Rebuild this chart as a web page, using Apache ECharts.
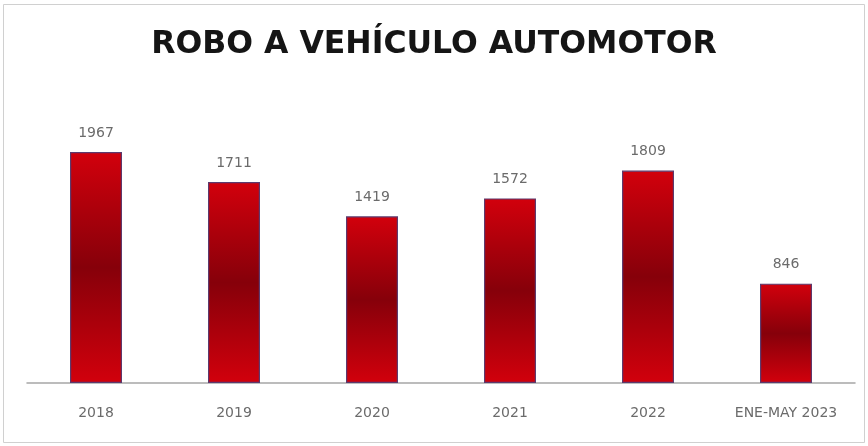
<!DOCTYPE html>
<html><head><meta charset="utf-8">
<script src="https://cdn.jsdelivr.net/npm/echarts@6/dist/echarts.min.js"></script>
<style>html,body{margin:0;padding:0;background:#fff}#c{width:868px;height:446px}</style>
</head><body><div id="c"></div>
<script>
const categories = ['2018','2019','2020','2021','2022','ENE-MAY 2023'];
const values = [1967, 1711, 1419, 1572, 1809, 846];
const titleText = 'ROBO A VEHÍCULO AUTOMOTOR';

const chart = echarts.init(document.getElementById('c'), null, {renderer:'canvas'});
chart.setOption({
  backgroundColor:'#ffffff',
  animation:false,
  title:{text:titleText,left:'center',top:24,textStyle:{fontFamily:'DejaVu Sans',fontWeight:'bold',fontSize:31.5,color:'#151515'}},
  graphic:[{type:'rect',shape:{x:3.5,y:4.5,width:861,height:438},style:{fill:'none',stroke:'#d0d0d0',lineWidth:1}}],
  grid:{left:27,right:13,top:89.4,bottom:63},
  xAxis:{type:'category',data:categories,axisTick:{show:false},
    axisLine:{lineStyle:{color:'#a6a6a6',width:1.5}},
    axisLabel:{color:'#6b6b6b',fontFamily:'DejaVu Sans',fontSize:14,margin:23}},
  yAxis:{type:'value',min:0,max:2500,show:false,splitLine:{show:false}},
  series:[{type:'bar',data:values,barWidth:52,
    itemStyle:{color:{type:'linear',x:0,y:0,x2:0,y2:1,colorStops:[{offset:0,color:'#d2000c'},{offset:0.5,color:'#86000a'},{offset:1,color:'#d2000c'}]},
      borderColor:'#5c3a6e',borderWidth:1.2},
    label:{show:true,position:'top',distance:12,color:'#6b6b6b',fontFamily:'DejaVu Sans',fontSize:14}}]
});
</script></body></html>
